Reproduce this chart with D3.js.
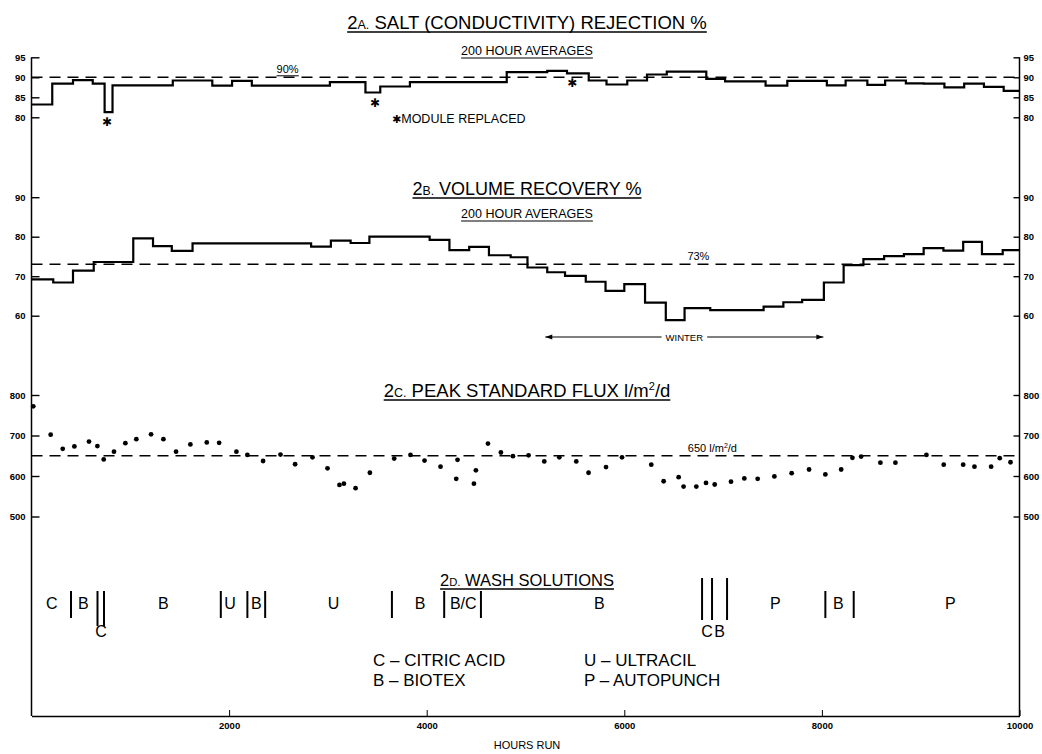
<!DOCTYPE html>
<html>
<head>
<meta charset="utf-8">
<script src="https://cdn.jsdelivr.net/npm/d3@7"></script>
<style>
  body { margin: 0; background: #fff; }
  svg { display: block; font-family: "Liberation Sans", Arial, sans-serif; }
</style>
</head>
<body>
<div id="chart"></div>
<script>
// ---- data ----
// 2A salt rejection, 200 hour averages (step start hour, %)
const saltHours = [0, 210, 420, 620, 740, 820, 1430, 1830, 2030, 2230, 3020, 3380, 3530, 3830, 4810, 5220, 5420, 5640, 5820, 6030, 6230, 6430, 6830, 7020, 7430, 7650, 8050, 8240, 8460, 8640, 8850, 9030, 9240, 9440, 9640, 9840];
const saltPct = [83.2, 88.4, 89.3, 88.4, 81.3, 88.0, 89.2, 87.9, 89.1, 87.9, 88.8, 86.2, 87.7, 88.8, 91.3, 91.6, 91.0, 89.2, 88.2, 89.2, 90.7, 91.4, 89.6, 89.0, 87.9, 89.1, 88.0, 89.2, 88.1, 89.2, 88.5, 88.4, 87.5, 88.4, 87.6, 86.6];
const moduleReplaced = [765, 3478, 5473];

// 2B volume recovery
const recHours = [0, 220, 420, 630, 1030, 1230, 1420, 1630, 2830, 3030, 3230, 3420, 4030, 4230, 4430, 4630, 4850, 5020, 5220, 5400, 5610, 5810, 6000, 6210, 6420, 6610, 6870, 7410, 7610, 7800, 8020, 8220, 8420, 8630, 8830, 9030, 9230, 9430, 9620, 9830];
const recPct = [69.2, 68.4, 71.4, 73.6, 79.6, 77.6, 76.4, 78.3, 77.5, 79.0, 78.4, 80.0, 79.2, 76.6, 77.4, 75.3, 74.8, 72.2, 71.0, 70.1, 68.6, 66.3, 68.0, 63.3, 58.9, 61.9, 61.4, 62.3, 63.4, 64.0, 68.4, 72.8, 74.3, 75.1, 75.6, 77.1, 76.5, 78.7, 75.6, 76.6];
const winter = [5200, 8015];

// 2C peak standard flux
const fluxHours = [18, 194, 316, 434, 582, 667, 731, 835, 950, 1061, 1210, 1335, 1463, 1608, 1774, 1899, 2074, 2185, 2344, 2520, 2668, 2844, 2996, 3117, 3162, 3280, 3425, 3671, 3836, 3978, 4140, 4299, 4312, 4478, 4498, 4620, 4751, 4873, 5031, 5190, 5342, 5514, 5638, 5815, 5977, 6273, 6398, 6550, 6600, 6729, 6827, 6915, 7080, 7215, 7350, 7519, 7694, 7870, 8035, 8195, 8309, 8397, 8592, 8744, 9058, 9233, 9430, 9544, 9713, 9800, 9909];
const fluxVals = [772, 702, 667, 673, 685, 674, 641, 660, 681, 691, 703, 691, 660, 678, 683, 682, 660, 652, 637, 653, 629, 646, 619, 578, 581, 570, 608, 643, 652, 638, 623, 593, 640, 581, 614, 680, 658, 649, 651, 636, 646, 636, 608, 622, 646, 628, 587, 597, 574, 574, 583, 579, 586, 594, 593, 599, 607, 616, 604, 616, 645, 648, 633, 633, 652, 628, 628, 623, 623, 644, 634];

// 2D wash solutions
const washBars = [400, 1916, 2185, 2365, 3648, 4177, 4549, 8035, 8322];
const washDoubleBars = [668, 734];
const washTripleBars = [6787, 6888, 7040];
const washLabelHours = [205, 525, 1335, 2010, 2276, 3056, 3934, 4370, 5747, 7529, 8167, 9301];
const washLabels = ["C", "B", "B", "U", "B", "U", "B", "B/C", "B", "P", "B", "P"];
const washSubHours = [704, 6837, 6964];
const washSubLabels = ["C", "C", "B"];
const legendLeft = ["C \u2013 CITRIC ACID", "B \u2013 BIOTEX"];
const legendRight = ["U \u2013 ULTRACIL", "P \u2013 AUTOPUNCH"];

// ticks and reference lines
const saltTicks = [80, 85, 90, 95];
const recTicks = [60, 70, 80, 90];
const fluxTicks = [500, 600, 700, 800];
const hourTicks = [2000, 4000, 6000, 8000, 10000];
const saltTarget = 90, recTarget = 73, fluxTarget = 650;

// ---- layout ----
const width = 1042, height = 754;
const axisY = 716;
const cx = 527;

const svg = d3.select("#chart")
  .append("svg")
  .attr("width", width)
  .attr("height", height);

const x = d3.scaleLinear().domain([0, 10000]).range([31.5, 1019.5]);
const ySalt = d3.scaleLinear().domain([80, 95]).range([117.3, 57.3]);
const yRec = d3.scaleLinear().domain([60, 90]).range([315.7, 197.2]);
const yFlux = d3.scaleLinear().domain([500, 800]).range([516.5, 395]);

// underlined title helper
function title(big, small, rest, baseline, size) {
  const t = svg.append("text")
    .attr("x", cx).attr("y", baseline)
    .attr("text-anchor", "middle")
    .attr("font-size", size);
  t.append("tspan").text(big);
  t.append("tspan").attr("font-size", size * 0.68).text(small);
  t.append("tspan").text(rest);
  const b = t.node().getBBox();
  svg.append("line")
    .attr("x1", b.x).attr("x2", b.x + b.width)
    .attr("y1", baseline + 3).attr("y2", baseline + 3)
    .attr("stroke", "#000").attr("stroke-width", 1.4);
}

function subtitle(txt, baseline) {
  const t = svg.append("text")
    .attr("x", cx).attr("y", baseline)
    .attr("text-anchor", "middle")
    .attr("font-size", 12.5)
    .text(txt);
  const b = t.node().getBBox();
  svg.append("line")
    .attr("x1", b.x).attr("x2", b.x + b.width)
    .attr("y1", baseline + 3).attr("y2", baseline + 3)
    .attr("stroke", "#000").attr("stroke-width", 1.1);
}

// frame: left/right verticals and bottom axis
[0, 10000].forEach(h => {
  svg.append("line")
    .attr("x1", x(h)).attr("x2", x(h))
    .attr("y1", ySalt(95)).attr("y2", axisY)
    .attr("stroke", "#000").attr("stroke-width", 1.5);
});

const xAxis = svg.append("g")
  .attr("transform", `translate(0,${axisY})`)
  .call(d3.axisBottom(x).tickValues(hourTicks).tickSize(-6).tickSizeOuter(0).tickPadding(6).tickFormat(d3.format("d")));
xAxis.select(".domain").attr("stroke-width", 1.5);
xAxis.selectAll("text").attr("font-size", 9.5).attr("font-weight", "bold").attr("font-family", "Liberation Sans, Arial, sans-serif");

svg.append("text")
  .attr("x", cx).attr("y", 749)
  .attr("text-anchor", "middle")
  .attr("font-size", 11)
  .text("HOURS RUN");

// y axes both sides
function yAxes(scale, ticks) {
  const l = svg.append("g")
    .attr("transform", `translate(${x(0)},0)`)
    .call(d3.axisLeft(scale).tickValues(ticks).tickSize(-8).tickPadding(6));
  const r = svg.append("g")
    .attr("transform", `translate(${x(10000)},0)`)
    .call(d3.axisRight(scale).tickValues(ticks).tickSize(-6).tickPadding(4));
  [l, r].forEach(g => {
    g.select(".domain").remove();
    g.selectAll("line").attr("stroke-width", 1.4);
    g.selectAll("text").attr("font-size", 9.5).attr("font-weight", "bold").attr("font-family", "Liberation Sans, Arial, sans-serif");
  });
}
yAxes(ySalt, saltTicks);
yAxes(yRec, recTicks);
yAxes(yFlux, fluxTicks);

// dashed reference line with label
function refLine(scale, v, label, labelHour, underline) {
  svg.append("line")
    .attr("x1", x(0)).attr("x2", x(10000))
    .attr("y1", scale(v)).attr("y2", scale(v))
    .attr("stroke", "#000").attr("stroke-width", 1.5)
    .attr("stroke-dasharray", "11,7");
  const t = svg.append("text")
    .attr("x", x(labelHour)).attr("y", scale(v) - 4)
    .attr("text-anchor", "middle")
    .attr("font-size", 11);
  label(t);
  if (underline) {
    const b = t.node().getBBox();
    svg.append("line")
      .attr("x1", b.x).attr("x2", b.x + b.width)
      .attr("y1", scale(v) - 1.5).attr("y2", scale(v) - 1.5)
      .attr("stroke", "#000").attr("stroke-width", 1);
  }
}

// step line
function steps(scale, hours, vals) {
  const pts = hours.map((h, i) => [h, vals[i]]);
  pts.push([10000, vals[vals.length - 1]]);
  svg.append("path")
    .datum(pts)
    .attr("fill", "none")
    .attr("stroke", "#000")
    .attr("stroke-width", 2.2)
    .attr("d", d3.line().x(d => x(d[0])).y(d => scale(d[1])).curve(d3.curveStepAfter));
}

// ---- 2A ----
title("2", "A.", " SALT (CONDUCTIVITY) REJECTION %", 29, 18.5);
subtitle("200 HOUR AVERAGES", 55);
refLine(ySalt, saltTarget, t => t.text("90%"), 2592, true);
steps(ySalt, saltHours, saltPct);

svg.selectAll(".star")
  .data(moduleReplaced)
  .enter()
  .append("text")
  .attr("class", "star")
  .attr("x", d => x(d))
  .attr("y", d => ySalt(saltPct[d3.bisectRight(saltHours, d) - 1]) + 14)
  .attr("text-anchor", "middle")
  .attr("font-size", 12)
  .attr("font-family", "DejaVu Sans, sans-serif")
  .text("\u2731");

const note = svg.append("text")
  .attr("x", 392).attr("y", 123)
  .attr("font-size", 12.5);
note.append("tspan").attr("font-family", "DejaVu Sans, sans-serif").attr("font-size", 11).text("\u2731");
note.append("tspan").text("MODULE REPLACED");

// ---- 2B ----
title("2", "B.", " VOLUME RECOVERY %", 195, 18);
subtitle("200 HOUR AVERAGES", 218);
refLine(yRec, recTarget, t => t.text("73%"), 6750, false);
steps(yRec, recHours, recPct);

// winter arrow
const wy = 337;
const wl = svg.append("text")
  .attr("x", x((winter[0] + winter[1]) / 2)).attr("y", wy + 3.5)
  .attr("text-anchor", "middle")
  .attr("font-size", 9.5)
  .text("WINTER");
const wb = wl.node().getBBox();
svg.append("line").attr("x1", x(winter[0])).attr("x2", wb.x - 4).attr("y1", wy).attr("y2", wy).attr("stroke", "#000").attr("stroke-width", 1.2);
svg.append("line").attr("x1", wb.x + wb.width + 4).attr("x2", x(winter[1])).attr("y1", wy).attr("y2", wy).attr("stroke", "#000").attr("stroke-width", 1.2);
svg.append("path")
  .attr("d", `M${x(winter[0])},${wy}l7,-2.5v5z M${x(winter[1])},${wy}l-7,-2.5v5z`)
  .attr("fill", "#000");

// ---- 2C ----
const t2c = svg.append("text")
  .attr("x", cx).attr("y", 397)
  .attr("text-anchor", "middle")
  .attr("font-size", 18.5);
t2c.append("tspan").text("2");
t2c.append("tspan").attr("font-size", 12.5).text("C.");
t2c.append("tspan").text(" PEAK STANDARD FLUX l/m");
t2c.append("tspan").attr("font-size", 11).attr("dy", -7).text("2");
t2c.append("tspan").attr("dy", 7).text("/d");
{
  const b = t2c.node().getBBox();
  svg.append("line")
    .attr("x1", b.x).attr("x2", b.x + b.width)
    .attr("y1", 400).attr("y2", 400)
    .attr("stroke", "#000").attr("stroke-width", 1.4);
}
refLine(yFlux, fluxTarget, t => {
  t.append("tspan").text("650 l/m");
  t.append("tspan").attr("font-size", 7).attr("dy", -4).text("2");
  t.append("tspan").attr("dy", 4).text("/d");
}, 6892, false);

svg.selectAll(".dot")
  .data(fluxHours)
  .enter()
  .append("circle")
  .attr("class", "dot")
  .attr("cx", d => x(d))
  .attr("cy", (d, i) => yFlux(fluxVals[i]))
  .attr("r", 2.4)
  .attr("fill", "#000");

// ---- 2D ----
title("2", "D.", " WASH SOLUTIONS", 586, 16.5);

function bars(hours, y1, y2) {
  svg.append("g").selectAll("line")
    .data(hours)
    .enter()
    .append("line")
    .attr("x1", d => x(d)).attr("x2", d => x(d))
    .attr("y1", y1).attr("y2", y2)
    .attr("stroke", "#000").attr("stroke-width", 2);
}
bars(washBars, 591, 618);
bars(washDoubleBars, 591, 626);
bars(washTripleBars, 578, 620);

svg.append("g").selectAll("text")
  .data(washLabelHours)
  .enter()
  .append("text")
  .attr("x", d => x(d)).attr("y", 609)
  .attr("text-anchor", "middle")
  .attr("font-size", 16)
  .text((d, i) => washLabels[i]);

svg.append("g").selectAll("text")
  .data(washSubHours)
  .enter()
  .append("text")
  .attr("x", d => x(d)).attr("y", 637)
  .attr("text-anchor", "middle")
  .attr("font-size", 16)
  .text((d, i) => washSubLabels[i]);

[legendLeft, legendRight].forEach((col, c) => {
  svg.append("g").selectAll("text")
    .data(col)
    .enter()
    .append("text")
    .attr("x", c === 0 ? 373 : 584)
    .attr("y", (d, i) => 666 + i * 20)
    .attr("font-size", 17)
    .text(d => d);
});
</script>
</body>
</html>
